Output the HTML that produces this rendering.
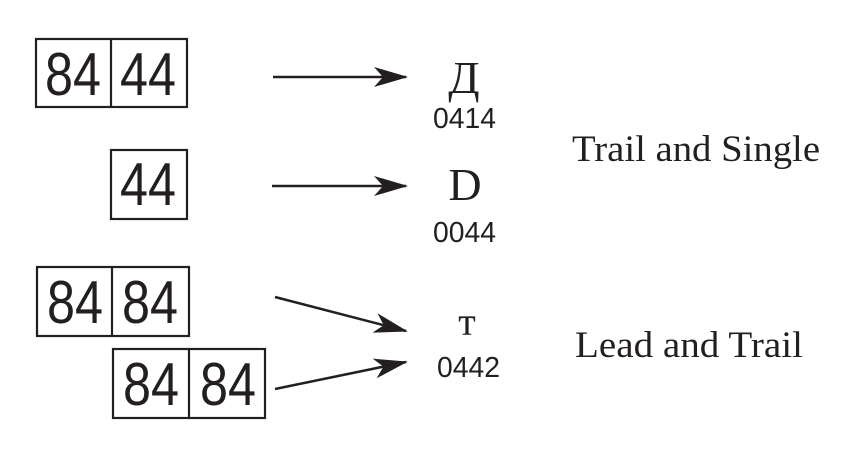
<!DOCTYPE html>
<html><head><style>html,body{margin:0;padding:0;background:#fff;}</style></head><body>
<svg width="846" height="444" xmlns="http://www.w3.org/2000/svg">
<defs><marker id="a" markerWidth="34" markerHeight="20" refX="32" refY="10" orient="auto" markerUnits="userSpaceOnUse"><path d="M0,0 L34,10 L0,20 L9,10 Z" fill="#231f20"/></marker></defs>
<g fill="none" stroke="#231f20" stroke-width="2.2">
<rect x="36" y="39" width="151" height="68"/><line x1="111" y1="39" x2="111" y2="107"/>
<rect x="111" y="150" width="76" height="69"/>
<rect x="37" y="267" width="152" height="69"/><line x1="112" y1="267" x2="112" y2="336"/>
<rect x="113" y="349" width="152" height="69"/><line x1="189" y1="349" x2="189" y2="418"/>
</g>
<g stroke="#231f20" stroke-width="2.5" marker-end="url(#a)">
<line x1="273" y1="77" x2="406" y2="77"/>
<line x1="272" y1="186" x2="406" y2="186"/>
<line x1="275" y1="297" x2="406" y2="331"/>
<line x1="275" y1="389" x2="406" y2="362"/>
</g>
<g font-family="Liberation Sans, sans-serif" font-size="60" fill="#231f20">
<text x="45" y="95" textLength="56" lengthAdjust="spacingAndGlyphs">84</text>
<text x="120" y="95" textLength="56" lengthAdjust="spacingAndGlyphs">44</text>
<text x="120" y="205" textLength="56" lengthAdjust="spacingAndGlyphs">44</text>
<text x="47" y="323" textLength="56" lengthAdjust="spacingAndGlyphs">84</text>
<text x="122" y="323" textLength="56" lengthAdjust="spacingAndGlyphs">84</text>
<text x="123" y="405" textLength="56" lengthAdjust="spacingAndGlyphs">84</text>
<text x="200" y="405" textLength="56" lengthAdjust="spacingAndGlyphs">84</text>
</g>
<g font-family="Liberation Sans, sans-serif" font-size="29" fill="#231f20">
<text x="433" y="128" textLength="63" lengthAdjust="spacingAndGlyphs">0414</text>
<text x="433" y="242" textLength="63" lengthAdjust="spacingAndGlyphs">0044</text>
<text x="437" y="377" textLength="63" lengthAdjust="spacingAndGlyphs">0442</text>
</g>
<g font-family="Liberation Serif, serif" fill="#231f20">
<text x="464" y="93" font-size="46" text-anchor="middle">Д</text>
<text x="465" y="200" font-size="46" text-anchor="middle">D</text>
<text x="467" y="335" font-size="40" text-anchor="middle">т</text>
<text x="572" y="161" font-size="37" textLength="248" lengthAdjust="spacingAndGlyphs">Trail and Single</text>
<text x="575" y="357" font-size="37" textLength="228" lengthAdjust="spacingAndGlyphs">Lead and Trail</text>
</g>
</svg>
</body></html>
